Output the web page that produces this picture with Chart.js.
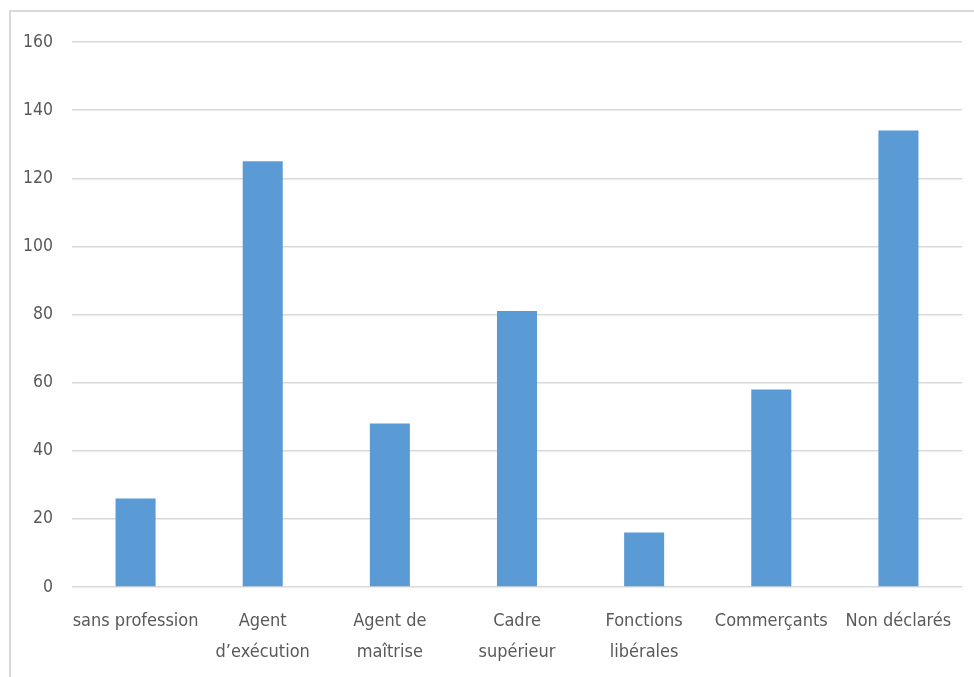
<!DOCTYPE html>
<html>
<head>
<meta charset="utf-8">
<script src="https://cdn.jsdelivr.net/npm/chart.js@4/dist/chart.umd.min.js"></script>
<style>
  html, body { margin: 0; padding: 0; background: #fff; }
  #wrap { position: relative; width: 974px; height: 677px; }
  #frame { position: absolute; left: 9px; top: 10px; width: 980px; height: 700px;
           border: 2px solid #d9d9d9; box-sizing: border-box; pointer-events: none; }
</style>
</head>
<body>
<div id="wrap">
  <canvas id="chart" width="974" height="677"></canvas>
  <div id="frame"></div>
</div>
<script>
// Categories (socio-professional groups) and their counts
const categories = [
  'sans profession',
  ['Agent', 'd’exécution'],
  ['Agent de', 'maîtrise'],
  ['Cadre', 'supérieur'],
  ['Fonctions', 'libérales'],
  'Commerçants',
  'Non déclarés'
];
const counts = [26, 125, 48, 81, 16, 58, 134];
const yTicks = [0, 20, 40, 60, 80, 100, 120, 140, 160];

const FONT = '"Liberation Sans Narrow", "DejaVu Sans Condensed", "Open Sans", sans-serif';
const TEXT = '#595959';

new Chart(document.getElementById('chart'), {
  type: 'bar',
  data: {
    labels: categories,
    datasets: [{
      data: counts,
      backgroundColor: '#5b9bd5',
      borderWidth: 0,
      barPercentage: 0.315,
      categoryPercentage: 1
    }]
  },
  options: {
    responsive: false,
    animation: false,
    layout: { padding: { top: 42, right: 12, bottom: 0, left: 0 } },
    plugins: { legend: { display: false }, tooltip: { enabled: false } },
    scales: {
      x: {
        grid: { display: false, drawTicks: false },
        border: { display: false },
        ticks: {
          color: TEXT, padding: 19, maxRotation: 0, autoSkip: false,
          font: { family: FONT, size: 18, lineHeight: 1.72 }
        },
        afterFit(axis) { axis.height = 677 - 587; }
      },
      y: {
        min: 0, max: 160,
        afterBuildTicks(axis) { axis.ticks = yTicks.map(v => ({ value: v })); },
        grid: { color: '#d9d9d9', lineWidth: 1.5, drawTicks: false },
        border: { display: false },
        ticks: {
          color: TEXT, padding: 19,
          font: { family: FONT, size: 17.5 }
        },
        afterFit(axis) { axis.width = 72; }
      }
    }
  }
});
</script>
</body>
</html>
